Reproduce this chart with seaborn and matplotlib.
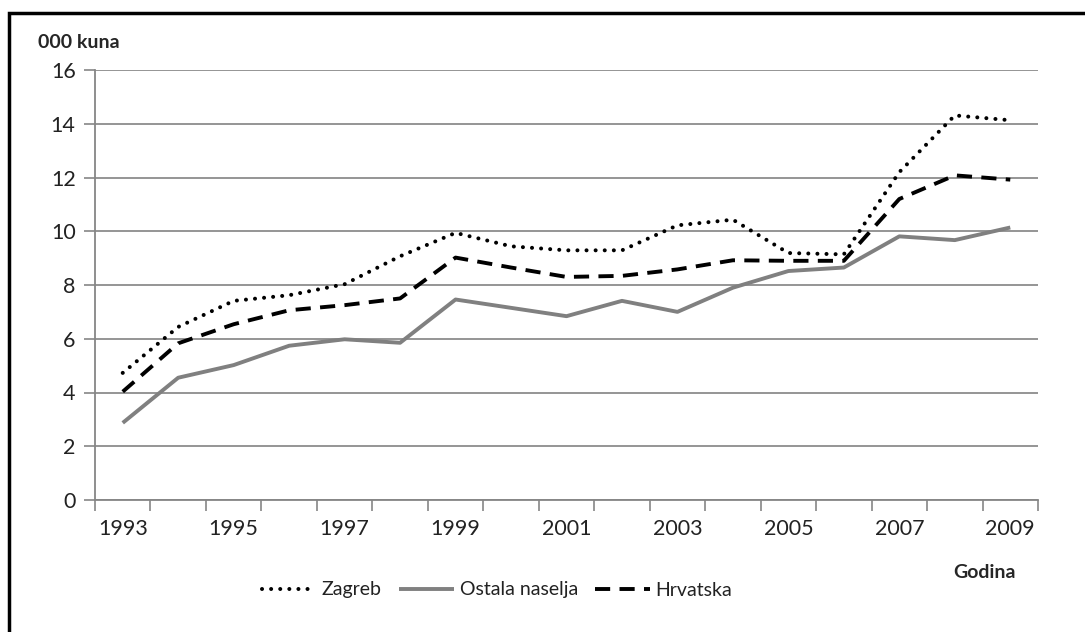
import numpy as np
import pandas as pd
import matplotlib
matplotlib.use("Agg")
import matplotlib.pyplot as plt
import seaborn as sns
from matplotlib.patches import Rectangle

years = list(range(1993, 2010))
zagreb = [4.73, 6.44, 7.41, 7.62, 8.03, 9.07, 9.94, 9.44, 9.29, 9.29, 10.22, 10.43, 9.19, 9.14, 12.2, 14.31, 14.13]
ostala = [2.87, 4.55, 5.02, 5.74, 5.98, 5.85, 7.46, 7.15, 6.84, 7.41, 7.0, 7.9, 8.52, 8.65, 9.81, 9.67, 10.14]
hrvatska = [4.03, 5.83, 6.54, 7.06, 7.25, 7.5, 9.02, 8.65, 8.3, 8.34, 8.58, 8.92, 8.9, 8.9, 11.2, 12.08, 11.92]
series_names = ["Zagreb", "Ostala naselja", "Hrvatska"]
tick_years = [1993, 1995, 1997, 1999, 2001, 2003, 2005, 2007, 2009]
yticks = [0, 2, 4, 6, 8, 10, 12, 14, 16]

sns.set_theme(style="white")
plt.rcParams['font.family'] = ['Lato', 'DejaVu Sans']

df = pd.DataFrame({"year": years * 3,
                   "value": zagreb + ostala + hrvatska,
                   "series": [series_names[0]] * 17 + [series_names[1]] * 17 + [series_names[2]] * 17})

fig = plt.figure(figsize=(10.85, 6.32), dpi=100)
ax = fig.add_axes([95/1085, 1 - 500/632, (1038 - 95)/1085, (500 - 70)/632])

colors = {"Zagreb": "black", "Ostala naselja": "#808080", "Hrvatska": "black"}
widths = {"Zagreb": 2.9, "Ostala naselja": 2.8, "Hrvatska": 2.8}
dash_patterns = {"Zagreb": (0.01, 2.25), "Ostala naselja": None, "Hrvatska": (3.9, 2.4)}
caps = {"Zagreb": "round", "Ostala naselja": "butt", "Hrvatska": "butt"}

for name in series_names:
    sub = df[df["series"] == name]
    n_before = len(ax.lines)
    sns.lineplot(data=sub, x="year", y="value", ax=ax, label=name, color=colors[name], lw=widths[name])
    line = ax.lines[n_before]
    if dash_patterns[name] is not None:
        line.set_linestyle((0, dash_patterns[name]))
    line.set_dash_capstyle(caps[name])
    line.set_solid_capstyle("butt")

ax.set_xlim(1992.5, 2009.5)
ax.set_ylim(0, 16)
ax.set_yticks(yticks)
ax.set_yticklabels([str(v) for v in yticks])
ax.set_xticks(np.arange(1992.5, 2010, 1.0))
ax.set_xticklabels([])
ax.set_xticks(tick_years, minor=True)
ax.set_xticklabels([str(y) for y in tick_years], minor=True)
ax.tick_params(axis="x", which="major", length=8, width=1.2, color="#868686", direction="out", bottom=True)
ax.tick_params(axis="x", which="minor", length=0, pad=14, labelsize=15.5, labelcolor="#222222", bottom=True)
ax.tick_params(axis="y", which="major", length=8, width=1.2, color="#868686", direction="out", left=True,
               labelsize=15.5, labelcolor="#222222", pad=6)
ax.grid(axis="y", color="#8c8c8c", lw=1.3)
ax.grid(axis="x", visible=False)
ax.set_axisbelow(True)
for s in ["top", "right"]:
    ax.spines[s].set_visible(False)
for s in ["left", "bottom"]:
    ax.spines[s].set_color("#868686")
    ax.spines[s].set_linewidth(1.3)
ax.set_xlabel("")
ax.set_ylabel("")

leg = ax.legend(loc="center", bbox_to_anchor=(497/1085, 1 - 590/632), bbox_transform=fig.transFigure,
                ncol=3, frameon=False, fontsize=14, handlelength=2.8, handletextpad=0.3, columnspacing=0.9)
for t in leg.get_texts():
    t.set_color("#222222")

fig.text(38/1085, 1 - 42/632, "000 kuna", fontsize=14, fontweight="bold", ha="left", va="center")
fig.text(985/1085, 1 - 572/632, "Godina", fontsize=14, fontweight="bold", ha="center", va="center")

fig.patches.append(Rectangle((9/1085, -0.1), 1.2, 1 - 13/632 + 0.1, transform=fig.transFigure,
                             fill=False, edgecolor="black", lw=2.5, figure=fig))

fig.savefig("out.png", dpi=100)
